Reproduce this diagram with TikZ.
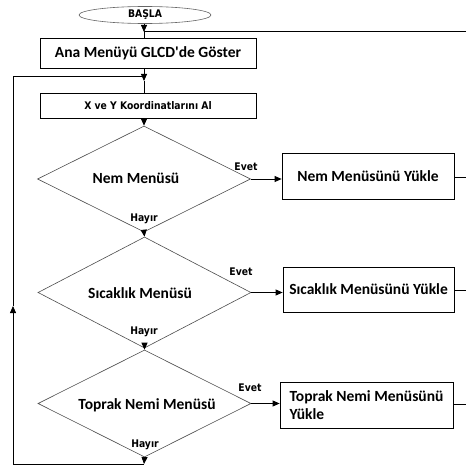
\documentclass[tikz,border=0pt]{standalone}
\usepackage{fontspec}
\setmainfont{Carlito}
\newfontfamily\smallfont{DejaVu Sans}[FakeStretch=0.88]
\usetikzlibrary{shapes.geometric,arrows.meta}
\tikzset{
  box/.style={draw, line width=0.8pt, rectangle, inner sep=0pt, font=\bfseries\fontsize{15.5}{18.5}\selectfont},
  dia/.style={draw=black!70, line width=0.6pt, diamond, inner sep=0pt},
  dtext/.style={inner sep=0pt, font=\bfseries\fontsize{15.5}{18.5}\selectfont},
  lbl/.style={inner sep=0pt, font=\smallfont\bfseries\fontsize{10.5}{12}\selectfont},
  flow/.style={line width=0.8pt},
  arr/.style={flow, -{Triangle[length=7pt,width=6pt]}},
}
\begin{document}
\begin{tikzpicture}[x=1pt,y=-1pt]
\useasboundingbox (0,0) rectangle (466,468);
% start
\node[ellipse, draw=black!60, line width=0.6pt, minimum width=132, minimum height=17, inner sep=0pt, lbl] (start) at (145,15) {BAŞLA};
% boxes
\node[box, minimum width=216, minimum height=30] (ana) at (148,53) {Ana Menüyü GLCD\textquotesingle de Göster};
\node[box, minimum width=216, minimum height=25, lbl, draw, line width=0.8pt] (xb) at (148,105.5) {X ve Y Koordinatlarını Al};
% diamonds
\node[dia, minimum width=213, minimum height=106] (d1) at (144,179) {};
\node[dia, minimum width=213, minimum height=111] (d2) at (144.5,292.5) {};
\node[dia, minimum width=213, minimum height=107] (d3) at (144.5,403.5) {};
\node[dtext] (t1) at (136,178) {Nem Menüsü};
\node[dtext] (t2) at (140,293) {Sıcaklık Menüsü};
\node[dtext] (t3) at (147,405) {Toprak Nemi Menüsü};
% action boxes
\node[box, minimum width=172, minimum height=46] (b1) at (368,176) {Nem Menüsünü Yükle};
\node[box, minimum width=171, minimum height=45] (b2) at (368.5,289.5) {Sıcaklık Menüsünü Yükle};
\node[box, minimum width=173, minimum height=46, align=left] (b3) at (366.5,405) {Toprak Nemi Menüsünü\\Yükle};
% labels
\node[lbl] (e1) at (246,167) {Evet};
\node[lbl] (e2) at (241,272) {Evet};
\node[lbl] (e3) at (250,388) {Evet};
\node[lbl] (h1) at (144,219) {Hayır};
\node[lbl] (h2) at (144,332) {Hayır};
\node[lbl] (h3) at (145,445) {Hayır};
% coordinates
\coordinate (jtop) at (144,32);
\coordinate (rtop) at (466,31);
\coordinate (jloop) at (144,81);
\coordinate (lt) at (13,76);
\coordinate (ltr) at (144,76);
\coordinate (lm) at (13,306);
\coordinate (ll) at (13,464);
\coordinate (lb) at (144,464);
\coordinate (r1) at (466,177);
\coordinate (r2) at (466,290);
\coordinate (r3) at (466,404);
% connectors
\draw[arr] (start.south -| jtop) -- (jtop);
\draw[flow] (jtop) -- (ana.north -| jtop);
\draw[flow] (rtop) -- (rtop -| jtop);
\draw[arr] (ana.south -| jloop) -- (jloop);
\draw[flow] (jloop) -- (xb.north -| jloop);
\draw[arr] (xb.south -| d1.north) -- (d1.north);
\draw[arr] (d1.south) -- (d2.north);
\draw[arr] (d2.south) -- (d3.north);
\draw[arr] (d3.south) -- (lb);
\draw[arr] (lb) -- (ll) -- (lm);
\draw[flow] (lm) -- (lt) -- (ltr);
\draw[arr] (d1.east) -- (b1.west |- d1.east);
\draw[arr] (d2.east) -- (b2.west |- d2.east);
\draw[arr] (d3.east) -- (b3.west |- d3.east);
\draw[flow] (b1.east |- r1) -- (r1);
\draw[flow] (b2.east |- r2) -- (r2);
\draw[flow] (b3.east |- r3) -- (r3);
\end{tikzpicture}
\end{document}
